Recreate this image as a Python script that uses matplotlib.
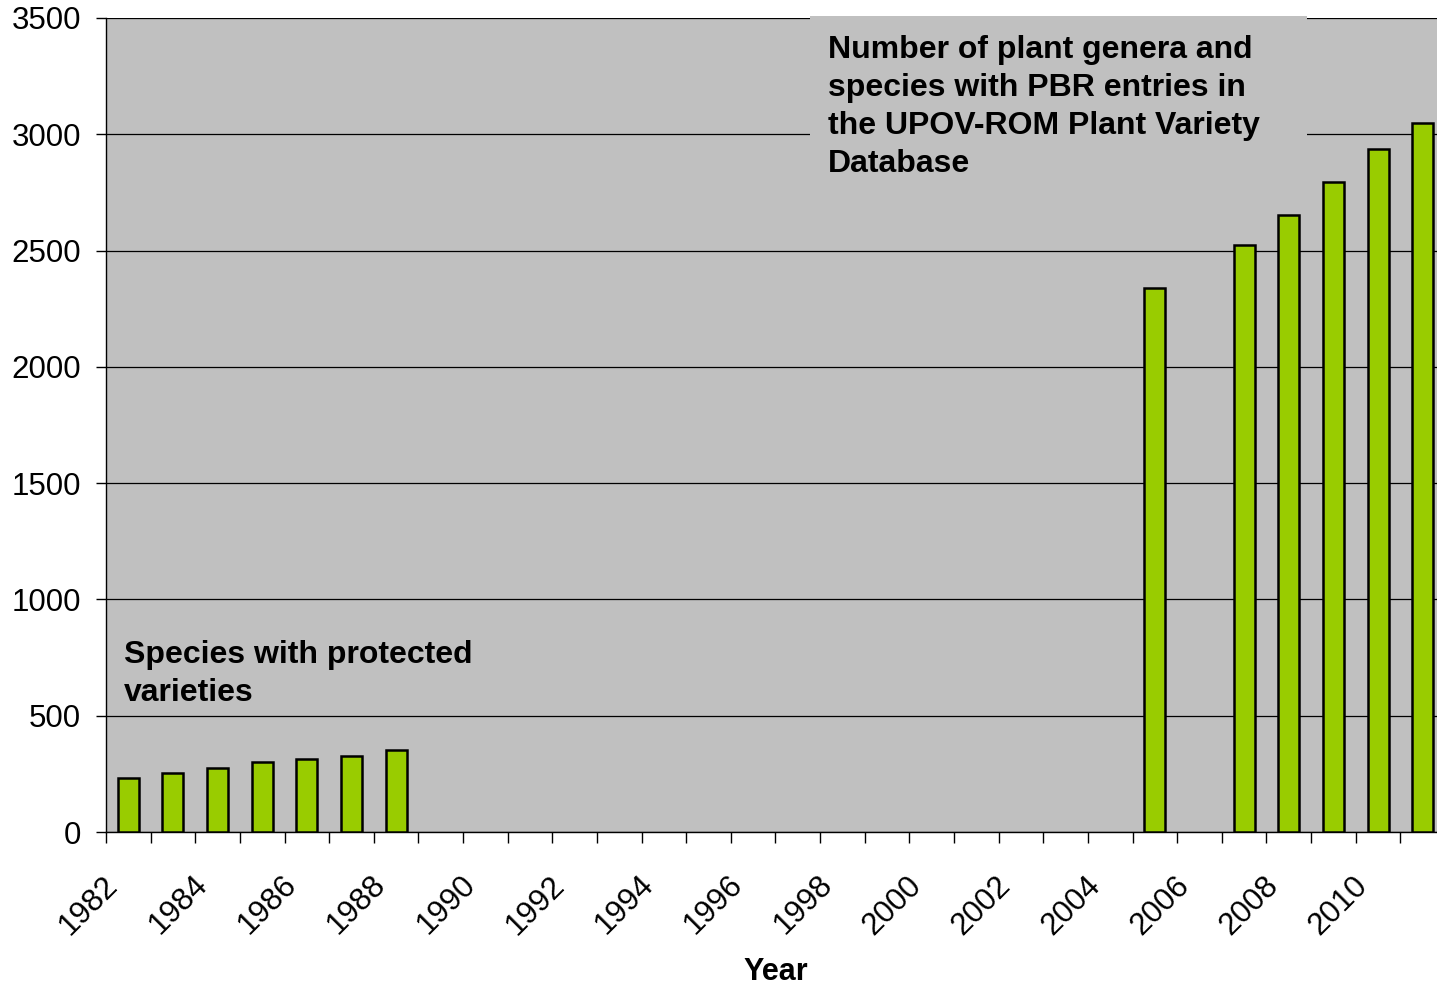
import matplotlib
matplotlib.use("Agg")
import matplotlib.pyplot as plt
from matplotlib.patches import Rectangle
import numpy as np

years = list(range(1982, 2012))
values = {1982: 233, 1983: 252, 1984: 276, 1985: 301, 1986: 316, 1987: 326, 1988: 351,
          2005: 2337, 2007: 2524, 2008: 2651, 2009: 2794, 2010: 2936, 2011: 3047}
label_years = [str(y) for y in years if (y - 1982) % 2 == 0]
yticks = [0, 500, 1000, 1500, 2000, 2500, 3000, 3500]
title_text = "Number of plant genera and\nspecies with PBR entries in\nthe UPOV-ROM Plant Variety\nDatabase"
left_text = "Species with protected\nvarieties"

plt.rcParams['font.family'] = ['Liberation Sans', 'DejaVu Sans']

fig = plt.figure(figsize=(14.37, 9.85), dpi=100)
ax = fig.add_axes([106/1437, 1 - 832/985, 1339/1437, 814/985])
ax.set_facecolor('#C0C0C0')

idx = {y: i for i, y in enumerate(years)}
bar_x = [idx[y] for y in values]
bar_h = [values[y] for y in values]
ax.bar(bar_x, bar_h, width=0.47, color='#99CC00', edgecolor='black', linewidth=1.8, zorder=3)

ax.set_xlim(-0.5, len(years) - 0.5)
ax.set_ylim(0, 3500)
ax.set_yticks(yticks)
ax.set_yticklabels([str(v) for v in yticks], fontsize=22.5)
ax.yaxis.grid(True, color='black', linewidth=0.9, zorder=1)
ax.set_axisbelow(True)

# category boundary ticks
ax.set_xticks(np.arange(-0.5, len(years) + 0.5, 1.0))
ax.set_xticklabels([])
label_pos = [idx[int(s)] - 0.33 for s in label_years]
ax.set_xticks(label_pos, minor=True)
ax.set_xticklabels(label_years, minor=True, rotation=45, ha='right', va='center',
                   rotation_mode='anchor', fontsize=22.5)
ax.tick_params(axis='x', which='minor', length=0, pad=35)
ax.tick_params(axis='x', which='major', length=8, width=1, direction='out')
ax.tick_params(axis='y', length=7, width=1, direction='out', pad=11)

for s in ['top', 'right']:
    ax.spines[s].set_visible(False)
ax.spines['left'].set_linewidth(1.0)
ax.spines['bottom'].set_linewidth(1.0)

ax.set_xlabel("Year", fontsize=22, fontweight='bold')
ax.xaxis.set_label_coords(0.5, -(957 - 832) / 814)

# text box covering gridlines
rect = Rectangle((0.5257, 0.775), 0.3712, 0.227, transform=ax.transAxes,
                 facecolor='#C0C0C0', edgecolor='none', zorder=2.5, clip_on=False)
ax.add_patch(rect)
fig.text(828/1437, 1 - 35/985, title_text, fontsize=23, fontweight='bold',
         ha='left', va='top', linespacing=1.355)
fig.text(124/1437, 1 - 640/985, left_text, fontsize=23, fontweight='bold',
         ha='left', va='top', linespacing=1.355)

fig.savefig("out.png", dpi=100)
